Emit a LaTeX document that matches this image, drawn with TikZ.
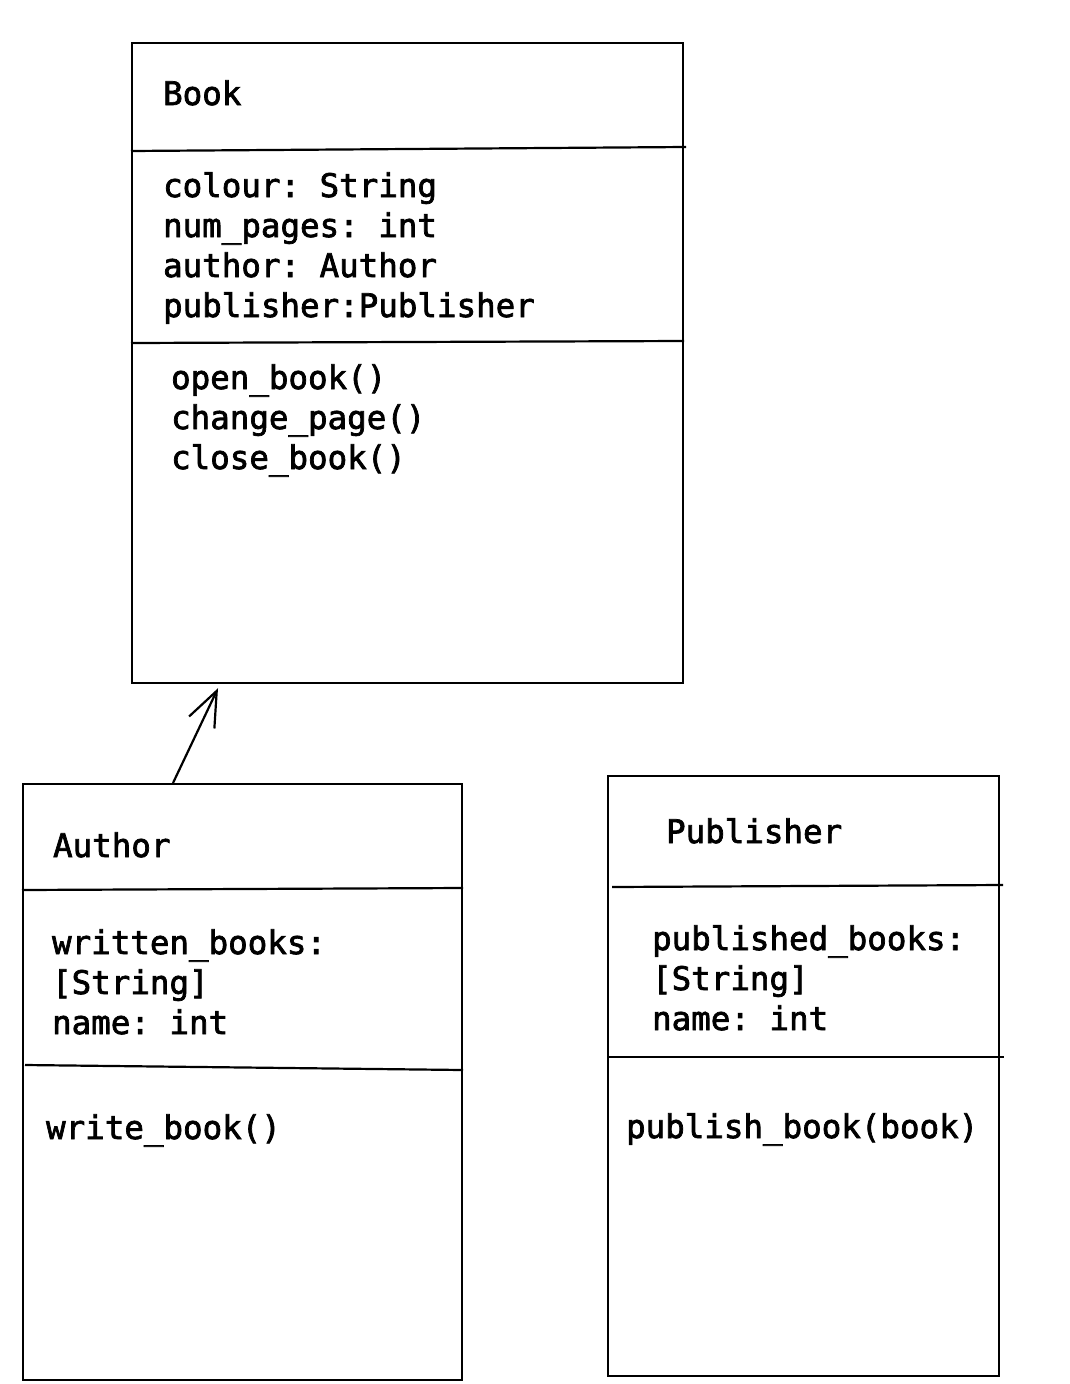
\documentclass[tikz,border=0pt]{standalone}
\usepackage{fontspec}
\newfontfamily\umlmono[FakeBold=2.2]{DejaVu Sans Mono}
\newcommand\msp{\hspace*{0.6021em}}
\usetikzlibrary{arrows.meta,calc}
\begin{document}
\begin{tikzpicture}[x=1pt,y=-1pt,
  line width=2.2pt,
  classbox/.style={draw,rectangle,inner sep=0pt,anchor=north west},
  txt/.style={anchor=base west,inner sep=0pt,font=\umlmono\fontsize{32.5}{40}\selectfont,align=left},
  divider/.style={line width=2.2pt}
]
\useasboundingbox (0,0) rectangle (1070,1384);
% Book
\node[classbox,minimum width=551pt,minimum height=640pt] (book) at (131,42) {};
\draw[divider] (131,151) -- (686,147);
\draw[divider] (131,343) -- (684,341);
\node[txt] (booktitle) at (162,105) {Book};
\node[txt] (bookattr1) at (162,197) {colour:\msp String};
\node[txt] (bookattr2) at (162,237) {num\_pages:\msp int};
\node[txt] (bookattr3) at (162,277) {author:\msp Author};
\node[txt] (bookattr4) at (162,317) {publisher:Publisher};
\node[txt] (bookm1) at (170,389) {open\_book()};
\node[txt] (bookm2) at (170,429) {change\_page()};
\node[txt] (bookm3) at (170,469) {close\_book()};
% Author
\node[classbox,minimum width=439pt,minimum height=596pt] (author) at (22,783) {};
\draw[divider] (22,890) -- (463,888);
\draw[divider] (25,1065) -- (463,1070);
\node[txt] (authtitle) at (52,857) {Author};
\node[txt] (authattr1) at (51,954) {written\_books:};
\node[txt] (authattr2) at (51,994) {[String]};
\node[txt] (authattr3) at (51,1034) {name:\msp int};
\node[txt] (authm1) at (45,1139) {write\_book()};
% Publisher
\node[classbox,minimum width=391pt,minimum height=600pt] (pub) at (607,775) {};
\draw[divider] (612,887) -- (1003,885);
\draw[divider] (607,1057) -- (1004,1057);
\node[txt] (pubtitle) at (665,843) {Publisher};
\node[txt] (pubattr1) at (651,950) {published\_books:};
\node[txt] (pubattr2) at (651,990) {[String]};
\node[txt] (pubattr3) at (651,1030) {name:\msp int};
\node[txt] (pubm1) at (625,1138) {publish\_book(book)};
% Arrow
\coordinate (arrstart) at ($(author.north west)+(151,0)$);
\coordinate (arrtip) at ($(book.south west)+(87,4)$);
\draw[-{Straight Barb[length=35pt,width=28pt,line width=2.2pt]}] (arrstart) -- (arrtip);
\end{tikzpicture}
\end{document}
